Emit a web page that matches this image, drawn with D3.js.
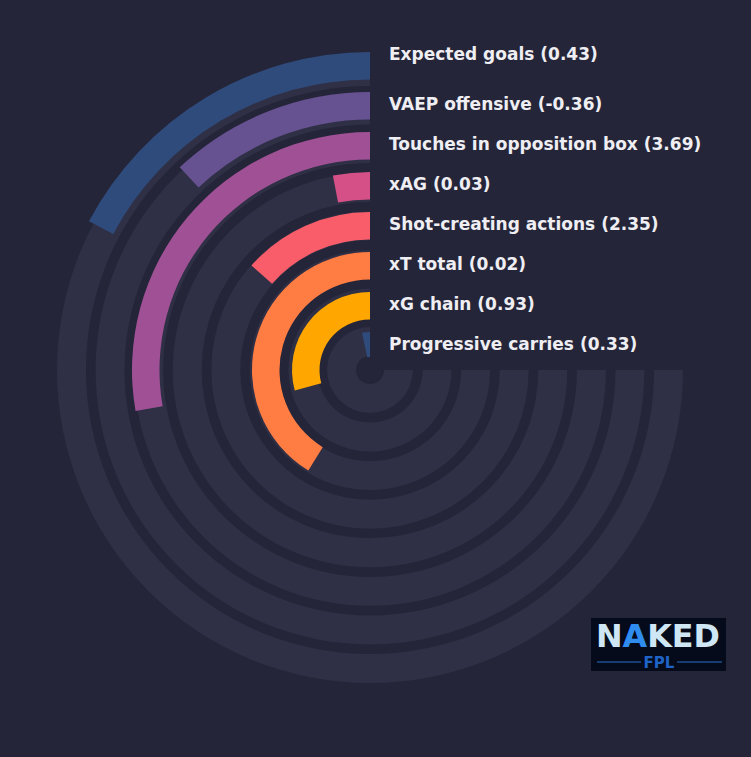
<!DOCTYPE html>
<html>
<head>
<meta charset="utf-8">
<script src="https://cdn.jsdelivr.net/npm/d3@7"></script>
<style>
  html, body { margin: 0; padding: 0; background: #252539; }
  svg { display: block; }
</style>
</head>
<body>
<script>
// metrics, outermost ring first
const metrics = ["Expected goals", "VAEP offensive", "Touches in opposition box", "xAG",
                 "Shot-creating actions", "xT total", "xG chain", "Progressive carries"];
const rawValues = ["0.43", "-0.36", "3.69", "0.03", "2.35", "0.02", "0.93", "0.33"];
// percentile (share of the 270 degree track)
const percentiles = [23, 16, 37, 4, 18, 55, 39, 4.5];
const barColors = ["#2f4b7c", "#665191", "#a05195", "#d45087", "#f95d6a", "#ff7c43", "#ffa600", "#2f4b7c"];

const width = 751, height = 757;
const cx = 370, cy = 370;

const svg = d3.select("body").append("svg")
   .attr("width", width)
   .attr("height", height);

svg.append("rect")
   .attr("width", width)
   .attr("height", height)
   .attr("fill", "#252539");

const g = svg.append("g")
   .attr("transform", `translate(${cx},${cy})`);

// radial band scales (tracks and bars sit on slightly different grids)
const trackR = d3.scaleBand()
   .domain(metrics)
   .range([313, 14])
   .paddingInner(0.25);

const barR = d3.scaleBand()
   .domain(metrics)
   .range([318, 10.5])
   .paddingInner(0.3125);

// angle scale: counter-clockwise from 12 o'clock, full track = 270 deg
const angle = d3.scaleLinear()
   .domain([0, 100])
   .range([0, -1.5 * Math.PI]);

const trackArc = d3.arc()
   .innerRadius(d => trackR(d))
   .outerRadius(d => trackR(d) + trackR.bandwidth())
   .startAngle(0)
   .endAngle(angle(100));

g.selectAll("path.track")
   .data(metrics)
   .enter()
   .append("path")
   .attr("class", "track")
   .attr("d", trackArc)
   .attr("fill", "#2f3045");

const barArc = d3.arc()
   .innerRadius(d => barR(d.name))
   .outerRadius(d => barR(d.name) + barR.bandwidth())
   .startAngle(0)
   .endAngle(d => angle(d.pct));

const rows = metrics.map((m, i) => ({ name: m, pct: percentiles[i], raw: rawValues[i], color: barColors[i] }));

g.selectAll("path.bar")
   .data(rows)
   .enter()
   .append("path")
   .attr("class", "bar")
   .attr("d", barArc)
   .attr("fill", d => d.color);

// center hole
g.append("circle")
   .attr("r", 13)
   .attr("fill", "#252539");

// labels to the right of each bar
g.selectAll("text.label")
   .data(rows)
   .enter()
   .append("text")
   .attr("class", "label")
   .attr("x", 19)
   .attr("y", (d, i) => -(barR(d.name) + barR.bandwidth() / 2) + 4.5 - (i === 0 ? 10 : 0))
   .attr("fill", "#eeeef3")
   .style("font-family", "DejaVu Sans")
   .style("font-weight", "bold")
   .style("font-size", "17px")
   .text(d => `${d.name} (${d.raw})`);

// logo
const logo = svg.append("g")
   .attr("transform", "translate(591,618)");

logo.append("rect")
   .attr("width", 135)
   .attr("height", 53)
   .attr("fill", "#050b1b");

const logoText = logo.append("text")
   .attr("x", 67)
   .attr("y", 29)
   .attr("text-anchor", "middle")
   .style("font-family", "DejaVu Sans")
   .style("font-weight", "bold")
   .style("font-size", "32px")
   .attr("textLength", 124)
   .attr("lengthAdjust", "spacingAndGlyphs")
   .attr("fill", "#cfe6f4");
logoText.append("tspan").text("N");
logoText.append("tspan").attr("fill", "#2f8df0").text("A");
logoText.append("tspan").text("KED");

logo.append("line")
   .attr("x1", 6).attr("x2", 50)
   .attr("y1", 44).attr("y2", 44)
   .attr("stroke", "#2a6fc4")
   .attr("stroke-width", 1);

logo.append("line")
   .attr("x1", 86).attr("x2", 131)
   .attr("y1", 44).attr("y2", 44)
   .attr("stroke", "#2a6fc4")
   .attr("stroke-width", 1);

logo.append("text")
   .attr("x", 68)
   .attr("y", 50)
   .attr("text-anchor", "middle")
   .style("font-family", "DejaVu Sans")
   .style("font-weight", "bold")
   .style("font-size", "15px")
   .attr("fill", "#1f63c9")
   .text("FPL");
</script>
</body>
</html>
